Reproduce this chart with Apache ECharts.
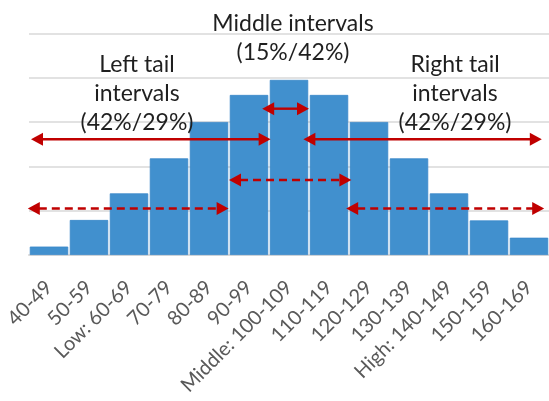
<!DOCTYPE html>
<html>
<head>
<meta charset="utf-8">
<script src="https://cdn.jsdelivr.net/npm/echarts@6/dist/echarts.min.js"></script>
<style>
html,body{margin:0;padding:0;background:#fff;}
#chart{width:549px;height:401px;}
</style>
</head>
<body>
<div id="chart"></div>
<script>
// Categories (score intervals)
var categories = ['40-49','50-59','Low: 60-69','70-79','80-89','90-99','Middle: 100-109','110-119','120-129','130-139','High: 140-149','150-159','160-169'];
// Bar heights (relative frequency)
var frequencies = [1.9, 7.9, 13.9, 21.8, 30, 36.1, 39.5, 36.1, 30, 21.8, 13.9, 7.8, 3.9];
// Value-axis ticks
var yMin = 0, yMax = 50, yStep = 10;

// Arrow annotations: start / end in category-boundary units, level on value axis, dashed flag
var arrowStart  = [0.05, 6.86, 5.83, -0.03, 5.0, 7.93];
var arrowEnd    = [6.04, 12.82, 7.0, 4.99, 8.06, 12.88];
var arrowLevel  = [26.1, 26.1, 33.0, 10.5, 16.9, 10.5];
var arrowDashed = [0, 0, 0, 1, 1, 1];

// Annotation texts
var leftText   = ['Left tail', 'intervals', '(42%/29%)'];
var middleText = ['Middle intervals', '(15%/42%)'];
var rightText  = ['Right tail', 'intervals', '(42%/29%)'];

var RED = '#C00000';
var arrowData = arrowStart.map(function(s, i){ return [s, arrowEnd[i], arrowLevel[i], arrowDashed[i]]; });

var chart = echarts.init(document.getElementById('chart'), null, {renderer:'canvas'});
var textStyleBase = {fontFamily:'Lato', fontSize:23, fill:'#1f1f1f', align:'center', verticalAlign:'middle', lineHeight:29};

chart.setOption({
  animation:false,
  backgroundColor:'#ffffff',
  grid:{left:29, width:525.5, top:33.3, bottom:146, containLabel:false},
  xAxis:[{
    type:'category',
    data:categories,
    axisLine:{show:true, lineStyle:{color:'#D9D9D9', width:2}},
    axisTick:{show:false},
    axisLabel:{interval:0, rotate:45, color:'#595959', fontFamily:'Lato', fontSize:20, margin:29}
  },{
    type:'value', min:0, max:13, show:false
  }],
  yAxis:{
    type:'value', min:yMin, max:yMax, interval:yStep,
    axisLabel:{show:false}, axisLine:{show:false}, axisTick:{show:false},
    splitLine:{show:true, lineStyle:{color:'#D9D9D9', width:1.5}}
  },
  series:[{
    type:'bar',
    data:frequencies,
    barCategoryGap:'4%',
    itemStyle:{color:'#4190CE', borderColor:'#3A88C9', borderWidth:0.8},
    z:2
  },{
    type:'custom',
    xAxisIndex:1, yAxisIndex:0,
    data:arrowData,
    z:5,
    clip:false,
    renderItem:function(params, api){
      var x1 = api.value(0), x2 = api.value(1), y = api.value(2), dashed = api.value(3);
      var p1 = api.coord([x1, y]), p2 = api.coord([x2, y]);
      var L = 12, W = 6.5;
      return {type:'group', children:[
        {type:'line', shape:{x1:p1[0]+L-1, y1:p1[1], x2:p2[0]-L+1, y2:p2[1]},
          style:{stroke:RED, lineWidth:dashed ? 2.6 : 2.4, lineDash: dashed ? [8,5] : null}},
        {type:'polygon', shape:{points:[[p1[0],p1[1]],[p1[0]+L,p1[1]-W],[p1[0]+L,p1[1]+W]]}, style:{fill:RED}},
        {type:'polygon', shape:{points:[[p2[0],p2[1]],[p2[0]-L,p2[1]-W],[p2[0]-L,p2[1]+W]]}, style:{fill:RED}}
      ]};
    }
  }],
  graphic:[
    {type:'text', x:137, y:94, z:10, style:Object.assign({text:leftText.join('\n')}, textStyleBase)},
    {type:'text', x:293, y:38, z:10, style:Object.assign({text:middleText.join('\n')}, textStyleBase)},
    {type:'text', x:455, y:94, z:10, style:Object.assign({text:rightText.join('\n')}, textStyleBase)}
  ]
});
</script>
</body>
</html>
